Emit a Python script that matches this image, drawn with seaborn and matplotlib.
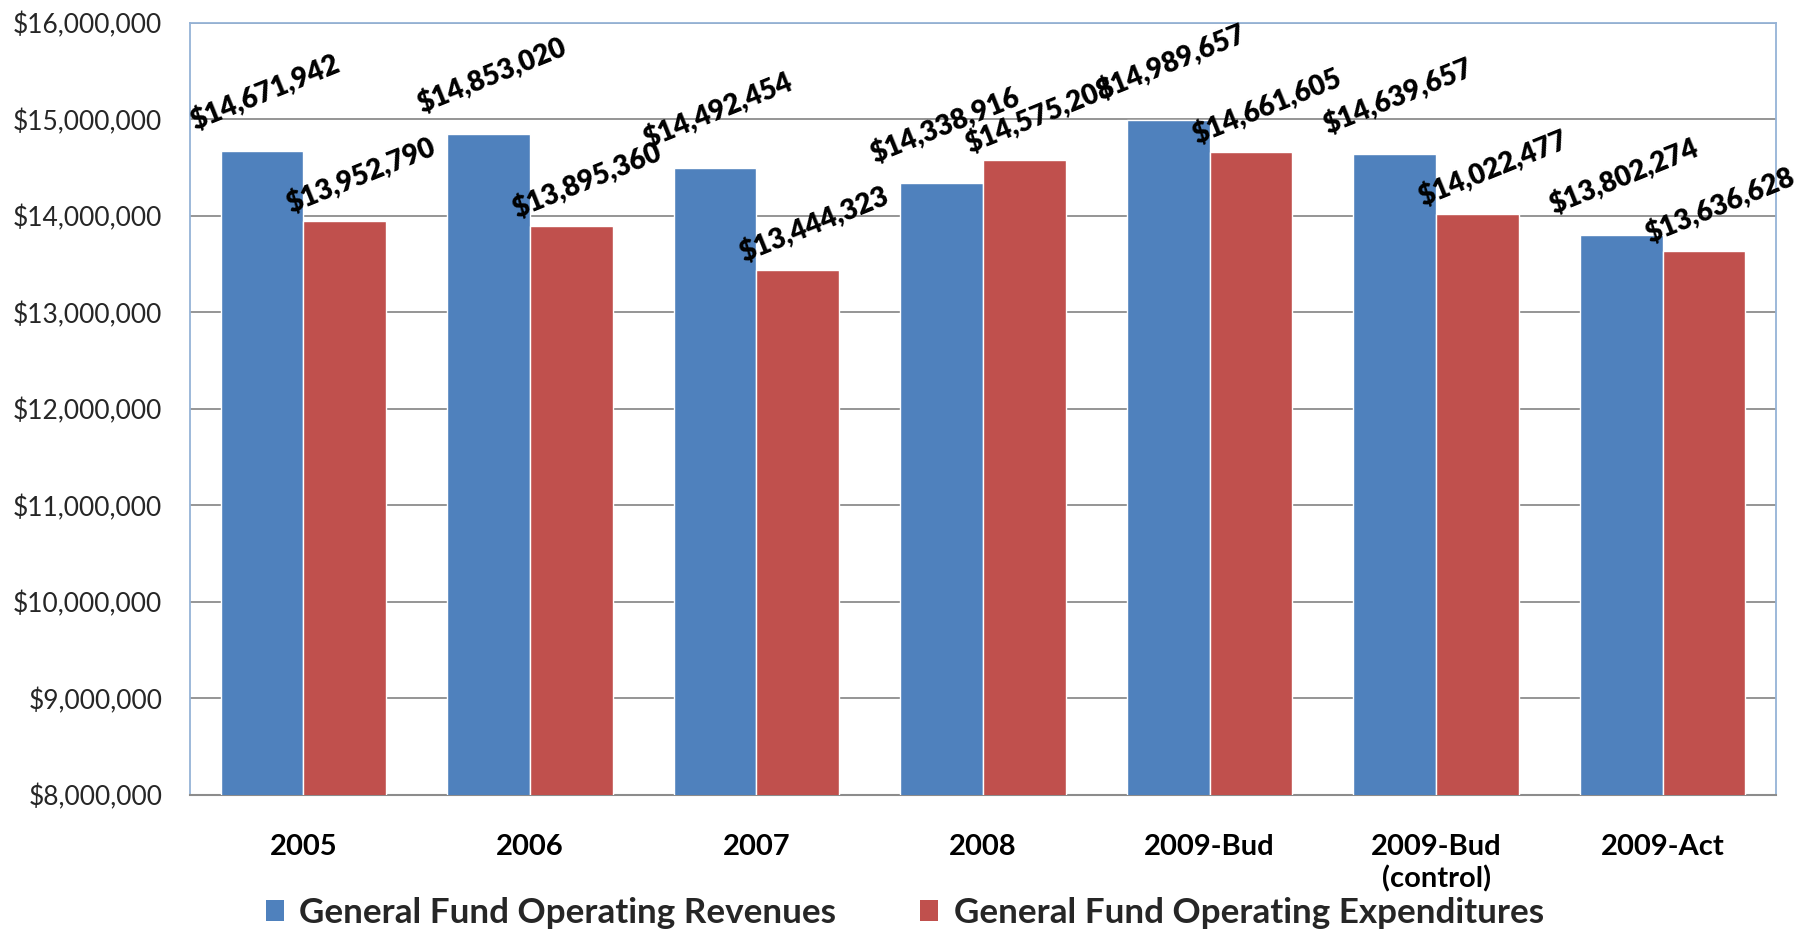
import matplotlib
matplotlib.use("Agg")
import matplotlib.pyplot as plt
import seaborn as sns
import pandas as pd
from matplotlib.ticker import FuncFormatter, MultipleLocator
from matplotlib.patches import Patch

categories = ["2005", "2006", "2007", "2008", "2009-Bud", "2009-Bud\n(control)", "2009-Act"]
revenues = [14671942, 14853020, 14492454, 14338916, 14989657, 14639657, 13802274]
expenditures = [13952790, 13895360, 13444323, 14575208, 14661605, 14022477, 13636628]
series_names = ["General Fund Operating Revenues", "General Fund Operating Expenditures"]
colors = ["#4F81BD", "#C0504D"]

sns.set_theme(style="white")
plt.rcParams['font.family'] = ['Lato', 'DejaVu Sans']

df = pd.DataFrame({
    "cat": categories * 2,
    "value": revenues + expenditures,
    "series": [series_names[0]] * len(categories) + [series_names[1]] * len(categories),
})

fig = plt.figure(figsize=(17.99, 9.30), dpi=100)
ax = fig.add_axes([190/1799, 1 - 795/930, (1776-190)/1799, (795-23)/930])

sns.barplot(data=df, x="cat", y="value", hue="series", palette=colors,
            width=0.73, gap=0, saturation=1, ax=ax, legend=False, zorder=3)

ax.set_ylim(8_000_000, 16_000_000)
ax.yaxis.set_major_locator(MultipleLocator(1_000_000))
ax.yaxis.set_major_formatter(FuncFormatter(lambda v, p: f"${v:,.0f}"))
ax.grid(axis="y", color="#8C8C8C", linewidth=1.3, zorder=0)
ax.set_axisbelow(True)
ax.set_xlabel("")
ax.set_ylabel("")
ax.set_xlim(-0.5, len(categories) - 0.5)

for s in ["left", "top", "right"]:
    ax.spines[s].set_color("#95B3D7")
    ax.spines[s].set_linewidth(1.3)
ax.spines["bottom"].set_color("#8C8C8C")
ax.spines["bottom"].set_linewidth(1.5)

ax.tick_params(axis="y", labelsize=19, colors="#262626", length=0, pad=20)
ax.tick_params(axis="x", labelsize=21, length=0, pad=28)
for t in ax.get_xticklabels():
    t.set_fontweight("bold")
    t.set_color("black")
    t.set_linespacing(1.25)

# data labels
offsets = [(3, 58), (16, 45)]
for ci, cont in enumerate(ax.containers):
    for bar in cont:
        h = bar.get_height()
        xc = bar.get_x() + bar.get_width() / 2
        ax.annotate(f"${h:,.0f}", xy=(xc, h), xytext=offsets[ci],
                    textcoords="offset pixels", ha="center", va="center",
                    rotation=22, fontsize=20, fontweight="heavy", color="black",
                    zorder=5, annotation_clip=False)

handles = [Patch(facecolor=c, edgecolor="none") for c in colors]
fig.legend(handles, series_names, loc="center", bbox_to_anchor=(0.503, 1 - 913/930),
           ncol=2, frameon=False, handlelength=0.5, handleheight=0.55,
           handletextpad=0.45, columnspacing=2.4,
           prop={"size": 25.2, "weight": "bold"})

fig.savefig("out.png", dpi=100)
